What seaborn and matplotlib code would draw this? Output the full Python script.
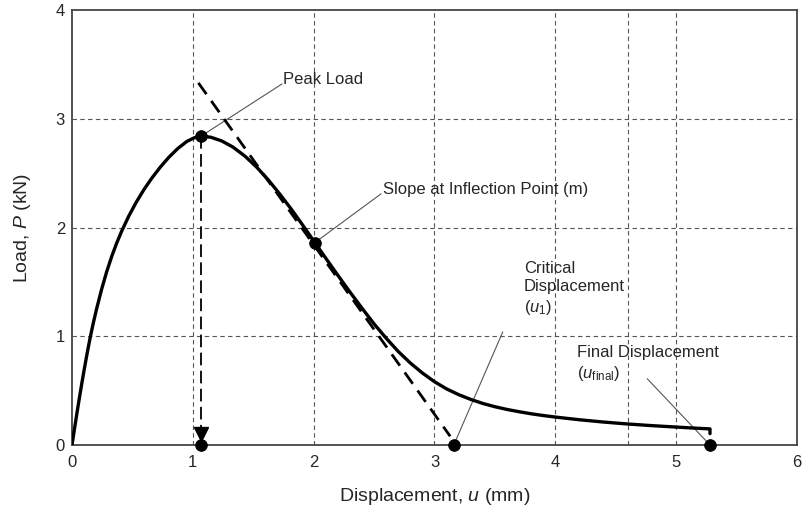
import matplotlib
matplotlib.use('Agg')
import matplotlib.pyplot as plt
import seaborn as sns
import pandas as pd

# load-displacement curve
disp = [0.00, 0.02, 0.04, 0.06, 0.08, 0.10, 0.125, 0.149, 0.175, 0.204, 0.245,
        0.287, 0.33, 0.37, 0.411, 0.47, 0.53, 0.595, 0.66, 0.73, 0.80, 0.875,
        0.95, 1.01, 1.068, 1.15, 1.239, 1.33, 1.432, 1.53, 1.625, 1.72, 1.818,
        1.91, 2.01, 2.10, 2.20, 2.30, 2.40, 2.50, 2.60, 2.70, 2.80, 2.90, 3.00,
        3.10, 3.20, 3.30, 3.40, 3.50, 3.60, 3.70, 3.80, 3.90, 4.00, 4.20, 4.40,
        4.60, 4.80, 5.00, 5.14, 5.28, 5.28]
load = [0.00, 0.144, 0.286, 0.424, 0.558, 0.687, 0.841, 0.979, 1.115, 1.253,
        1.431, 1.593, 1.738, 1.857, 1.966, 2.105, 2.229, 2.348, 2.453, 2.554,
        2.644, 2.726, 2.791, 2.824, 2.840, 2.830, 2.796, 2.741, 2.656, 2.553,
        2.437, 2.307, 2.164, 2.021, 1.861, 1.718, 1.561, 1.407, 1.258, 1.114,
        0.982, 0.860, 0.754, 0.662, 0.582, 0.516, 0.463, 0.419, 0.382, 0.352,
        0.327, 0.306, 0.287, 0.271, 0.257, 0.232, 0.211, 0.193, 0.178, 0.165,
        0.156, 0.148, 0.105]

# key points
peak = (1.068, 2.84)
inflection = (2.01, 1.861)
u1 = 3.16
u_final = 5.28

# tangent at the inflection point
tangent_x = [1.046, 3.13]
tangent_y = [3.33, 0.08]

# extra vertical grid line seen in the original
extra_grid_x = [4.6]

# labels and leader lines (text, text position, leader start, leader end)
notes = [
    ("Peak Load", (1.745, 3.36), (1.738, 3.32), peak),
    ("Slope at Inflection Point (m)", (2.57, 2.345), (2.558, 2.31), inflection),
    ("Critical\nDisplacement\n($u_1$)", (3.74, 1.435), (3.565, 1.04), (u1, 0)),
    ("Final Displacement\n($u_{\\mathrm{final}}$)", (4.18, 0.745), (4.76, 0.61), (u_final, 0)),
]


def main():
    sns.set_style("white")
    plt.rcParams['font.family'] = ['Liberation Sans', 'DejaVu Sans']
    plt.rcParams['mathtext.fontset'] = 'custom'
    plt.rcParams['mathtext.rm'] = 'Liberation Sans'
    plt.rcParams['mathtext.it'] = 'Liberation Sans:italic'

    fig = plt.figure(figsize=(8.07, 5.16), dpi=100)
    ax = fig.add_axes([0.0892, 0.1376, 0.8984, 0.843])

    grid_kw = dict(color='#555555', lw=0.8, ls=(0, (4, 3)), zorder=0)
    for gx in [1, 2, 3, 4, 5] + extra_grid_x:
        ax.axvline(gx, **grid_kw)
    for gy in [1, 2, 3]:
        ax.axhline(gy, **grid_kw)

    df = pd.DataFrame({'u': disp, 'P': load})
    sns.lineplot(data=df, x='u', y='P', sort=False, estimator=None,
                 color='black', linewidth=2.4, ax=ax, zorder=3,
                 solid_joinstyle='round')

    ax.plot(tangent_x, tangent_y, color='black', lw=2.0, ls=(0, (5, 3)), zorder=3)

    # vertical dashed arrow from peak down to the axis
    ax.plot([peak[0], peak[0]], [peak[1], 0.15], color='black', lw=1.3,
            ls=(0, (7, 3)), zorder=3)
    ax.plot([peak[0]], [0.10], marker='v', color='black', markersize=10,
            clip_on=False, zorder=4)

    pts = pd.DataFrame({'u': [peak[0], inflection[0], peak[0], u1, u_final],
                        'P': [peak[1], inflection[1], 0, 0, 0]})
    sns.scatterplot(data=pts, x='u', y='P', color='black', s=70,
                    edgecolor='black', ax=ax, zorder=5, clip_on=False)

    for text, tpos, lstart, target in notes:
        ax.plot([lstart[0], target[0]], [lstart[1], target[1]],
                color='#555555', lw=0.8, zorder=2)
        ax.text(tpos[0], tpos[1], text, fontsize=12, ha='left', va='center',
                linespacing=1.25, zorder=6)

    ax.set_xlim(0, 6)
    ax.set_ylim(0, 4)
    ax.set_xticks(range(0, 7))
    ax.set_yticks(range(0, 5))
    ax.tick_params(axis='both', length=0, labelsize=12)
    ax.tick_params(axis='x', pad=7)
    ax.tick_params(axis='y', pad=5)
    ax.set_xlabel("Displacement, $u$ (mm)", fontsize=14, labelpad=12)
    ax.set_ylabel("Load, $P$ (kN)", fontsize=14, labelpad=16)
    for sp in ax.spines.values():
        sp.set_color('#444444')
        sp.set_linewidth(1.3)
        sp.set_visible(True)

    plt.savefig('out.png', dpi=100)


if __name__ == '__main__':
    main()
